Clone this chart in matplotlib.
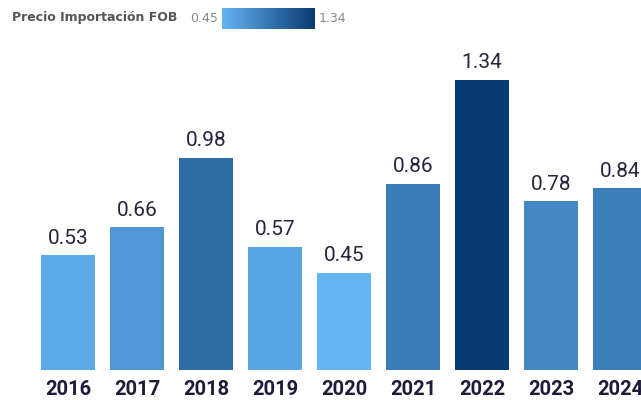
import numpy as np
import matplotlib
matplotlib.use("Agg")
import matplotlib.pyplot as plt
from matplotlib.colors import LinearSegmentedColormap, Normalize

years = ["2016", "2017", "2018", "2019", "2020", "2021", "2022", "2023", "2024"]
prices = [0.53, 0.66, 0.98, 0.57, 0.45, 0.86, 1.34, 0.78, 0.84]
legend_title = "Precio Importación FOB"

cmap = LinearSegmentedColormap.from_list("fob", ["#64b5f3", "#0a3a72"])
norm = Normalize(vmin=min(prices), vmax=max(prices))

W, H = 641, 400
fig = plt.figure(figsize=(W / 100, H / 100), dpi=100)
fig.patch.set_facecolor("white")

ax = fig.add_axes([0, 30 / H, 1, 370 / H])
x = np.arange(len(years))
ax.bar(x, prices, width=0.78, color=cmap(norm(prices)))
ax.set_xlim(-68 / 69, 8 + 21 / 69)
ax.set_ylim(0, 370 / 216.4)
ax.axis("off")

for xi, v in zip(x, prices):
    ax.text(xi, v + 0.035, f"{v:.2f}", ha="center", va="bottom",
            fontsize=15, color="#252540", family="Roboto")
    ax.text(xi, -0.045, years[xi], ha="center", va="top", fontsize=14.5,
            fontweight="bold", color="#1c1c3a", family="Roboto")

# gradient legend
fig.text(12 / W, 1 - 18 / H, legend_title, ha="left", va="center",
         fontsize=9, fontweight="bold", color="#555555")
fig.text(218 / W, 1 - 18 / H, f"{min(prices):.2f}", ha="right", va="center",
         fontsize=9, color="#888888")
fig.text(319 / W, 1 - 18 / H, f"{max(prices):.2f}", ha="left", va="center",
         fontsize=9, color="#888888")
lax = fig.add_axes([222 / W, 1 - 29 / H, 93 / W, 21 / H])
lax.imshow(np.linspace(0, 1, 256)[None, :], aspect="auto", cmap=cmap)
lax.axis("off")

fig.savefig("out.png", dpi=100)
